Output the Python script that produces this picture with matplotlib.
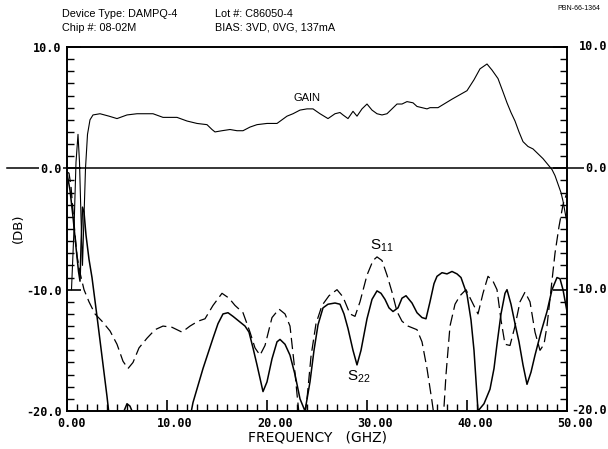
import matplotlib
matplotlib.use("Agg")
import matplotlib.pyplot as plt
import matplotlib.transforms as mtransforms
import numpy as np

# ---- data (frequency in GHz, level in dB) ----
gain_f = [0.45, 0.7, 0.9, 1.1, 1.25, 1.4, 1.55, 1.7, 1.85, 2.05, 2.3, 2.6, 3.3, 4.2, 5.0,
          6.0, 7.0, 8.6, 9.6, 11.0, 12.0, 13.0, 14.0, 14.5, 14.8, 15.5, 16.3, 17.0, 17.6,
          18.3, 19.0, 20.0, 21.0, 21.5, 22.0, 22.6, 23.3, 24.0, 24.6, 25.3, 26.1, 26.8,
          27.3, 27.6, 28.1, 28.6, 29.0, 29.5, 30.0, 30.5, 31.0, 31.5, 32.0, 32.5, 33.0,
          33.5, 34.0, 34.6, 35.0, 35.5, 36.0, 36.3, 37.1, 38.5, 40.0, 40.7, 41.3, 42.0,
          42.5, 43.1, 43.6, 44.0, 44.4, 44.8, 45.2, 45.6, 46.1, 46.6, 47.1, 47.6, 48.1,
          48.5, 48.8, 49.1, 49.4, 49.6, 50.0]
gain_db = [-10, -5, 0.5, 2.8, 0.5, -4, -8, -4, 0.0, 2.8, 4.0, 4.4, 4.5, 4.3, 4.1,
           4.4, 4.5, 4.5, 4.2, 4.2, 3.9, 3.7, 3.6, 3.2, 3.0, 3.1, 3.2, 3.1, 3.1,
           3.4, 3.6, 3.7, 3.7, 4.0, 4.3, 4.5, 4.8, 4.9, 4.9, 4.5, 4.1, 4.5,
           4.6, 4.4, 4.1, 4.7, 4.3, 4.9, 5.3, 4.8, 4.5, 4.4, 4.5, 4.9, 5.3,
           5.3, 5.5, 5.4, 5.1, 5.0, 4.9, 5.0, 5.0, 5.7, 6.4, 7.3, 8.2, 8.6,
           8.1, 7.4, 6.3, 5.4, 4.6, 3.9, 3.0, 2.2, 1.8, 1.6, 1.2, 0.8, 0.3,
           -0.1, -0.6, -1.3, -2.0, -2.7, -4.5]

s11_f = [0, 0.2, 0.4, 0.7, 1.0, 1.3, 1.7, 2.2, 2.8, 3.5, 4.3, 5.0, 5.6, 6.1, 6.6, 7.2,
         8.0, 8.8, 9.6, 10.5, 11.5, 12.3, 13.1, 13.8, 14.6, 15.5, 16.2, 16.8, 17.6,
         18.3, 18.8, 19.3, 19.8, 20.5, 21.2, 21.8, 22.3, 22.7, 23.0, 23.3, 23.7, 24.0,
         24.4, 24.9, 25.5, 26.2, 27.0, 27.6, 28.3, 28.8, 29.3, 30.0, 30.6, 31.0, 31.5,
         32.0, 32.5, 33.0, 33.5, 34.1, 35.0, 35.5, 36.0, 36.5, 36.8, 37.6, 37.9, 38.3,
         38.8, 39.3, 39.9, 40.5, 41.1, 41.6, 42.1, 42.6, 43.0, 43.4, 43.8, 44.3, 44.8,
         45.3, 45.8, 46.3, 46.8, 47.3, 47.7, 48.0, 48.4, 48.8, 49.2, 49.6, 50.0]
s11_db = [-0.3, -0.4, -1.5, -4.5, -7.2, -8.6, -10.0, -11.0, -12.0, -12.6, -13.4, -14.5,
          -15.9, -16.5, -16.0, -14.8, -14.0, -13.3, -13.0, -13.1, -13.5, -13.0, -12.6,
          -12.4, -11.3, -10.3, -10.7, -11.3, -11.9, -13.5, -14.8, -15.4, -14.6, -12.3,
          -11.6, -12.0, -13.0, -16.0, -18.6, -21, -21, -19.0, -15.5, -12.8, -11.3, -10.5,
          -10.0, -10.6, -12.0, -12.2, -11.0, -8.8, -7.6, -7.3, -7.6, -8.8, -10.2, -11.8,
          -12.6, -13.0, -13.3, -14.3, -16.5, -19.2, -21, -21, -17.0, -13.0, -11.2, -10.5,
          -10.0, -11.0, -12.0, -10.3, -8.9, -9.3, -10.0, -12.5, -14.5, -14.6, -13.0,
          -11.0, -10.2, -11.0, -13.5, -15.0, -14.5, -13.0, -10.0, -7.0, -4.8, -3.0, -2.0]

s22_f = [0, 0.3, 0.6, 0.9, 1.15, 1.3, 1.42, 1.55, 1.7, 1.9, 2.2, 2.5, 3.0, 3.5, 4.0, 4.3,
         5.5, 5.7, 6.0, 6.3, 6.6, 6.8, 12.2, 12.6, 13.6, 14.6, 15.1, 15.6, 16.1, 16.6,
         17.2, 17.8, 18.2, 18.6, 19.0, 19.6, 20.0, 20.5, 21.0, 21.3, 21.8, 22.3, 22.8,
         23.3, 23.8, 24.3, 24.7, 25.1, 25.6, 26.1, 26.8, 27.3, 27.7, 28.1, 28.6, 29.0,
         29.4, 30.0, 30.5, 31.0, 31.4, 31.8, 32.2, 32.6, 33.1, 33.5, 33.9, 34.5, 35.0,
         35.5, 35.9, 36.3, 36.7, 37.0, 37.5, 38.0, 38.5, 39.0, 39.4, 40.0, 40.4, 40.7,
         41.1, 41.7, 42.3, 42.7, 43.0, 43.4, 43.8, 44.0, 44.4, 44.8, 45.2, 45.6, 46.0,
         46.4, 46.8, 47.4, 48.0, 48.5, 49.0, 49.3, 49.6, 50.0]
s22_db = [-0.4, -1.8, -4.0, -6.5, -8.5, -9.3, -6.0, -3.2, -3.6, -5.5, -7.5, -9.0, -12.2,
          -15.5, -18.8, -21, -21, -20.0, -19.4, -19.6, -20.2, -21, -21, -19.3, -16.5,
          -14.0, -12.8, -12.0, -11.9, -12.2, -12.6, -13.0, -13.5, -14.8, -16.2, -18.4,
          -17.6, -15.7, -14.3, -14.1, -14.5, -15.4, -17.0, -19.0, -20.0, -17.6, -15.0,
          -12.9, -11.5, -11.2, -11.1, -11.2, -12.0, -13.2, -15.0, -16.2, -15.0, -12.4,
          -10.8, -10.1, -10.3, -10.8, -11.5, -11.8, -11.5, -10.7, -10.5, -11.1, -11.9,
          -12.3, -12.4, -11.0, -9.5, -8.9, -8.6, -8.7, -8.5, -8.7, -9.0, -10.4, -12.5,
          -15.0, -20.0, -19.4, -18.2, -16.5, -14.5, -12.0, -10.3, -10.0, -11.2, -12.8,
          -14.3, -16.2, -17.8, -16.8, -15.4, -13.5, -11.8, -10.0, -9.0, -9.1, -10.0, -11.8]

x_major = [0, 10, 20, 30, 40, 50]
x_labels = ["0.00", "10.00", "20.00", "30.00", "40.00", "50.00"]
y_major = [10, 0, -10, -20]
y_labels = ["10.0", "0.0", "-10.0", "-20.0"]

mono = dict(family="DejaVu Sans Mono", weight="bold", size=8.5)

fig = plt.figure(figsize=(6.08, 4.49), dpi=100)
ax = fig.add_axes([67 / 608, 1 - 411 / 449, 500 / 608, 364 / 449])

ax.plot(gain_f, gain_db, color="black", lw=0.8)
ax.plot(s11_f, s11_db, color="black", lw=0.9, dashes=(9, 4))
ax.plot(s22_f, s22_db, color="black", lw=1.1)

ax.set_xlim(0, 50)
ax.set_ylim(-20, 10)

for sp in ax.spines.values():
    sp.set_linewidth(1.4)

# ticks: inward, every 1 GHz / 1 dB
ax.set_xticks(x_major, x_labels, **mono)
ax.set_xticks(np.arange(0, 51, 1), minor=True)
ax.set_yticks(y_major, y_labels, **mono)
ax.set_yticks(np.arange(-20, 11, 1), minor=True)
ax.tick_params(axis="both", which="both", direction="in", top=False, right=True,
               color="black")
ax.tick_params(axis="x", which="major", length=8, width=1.2, pad=4)
ax.tick_params(axis="x", which="minor", length=5, width=1.0)
ax.tick_params(axis="y", which="major", length=10, width=1.2, pad=4, labelright=False)
ax.tick_params(axis="y", which="minor", length=5, width=1.0)

# x labels sit starting just left of their tick
shift = mtransforms.ScaledTranslation(-10 / 100, 0, fig.dpi_scale_trans)
for lab in ax.get_xticklabels():
    lab.set_horizontalalignment("left")
    lab.set_transform(lab.get_transform() + shift)

for lab in ax.get_yticklabels():
    if lab.get_text() == "0.0":
        lab.set_bbox(dict(facecolor="white", edgecolor="none", pad=1))

# right-hand labels
rtrans = mtransforms.blended_transform_factory(fig.transFigure, ax.transData)
for v, t in zip(y_major, y_labels):
    ax.text(607 / 608, v, t, transform=rtrans, ha="right", va="center",
            clip_on=False, zorder=5,
            bbox=dict(facecolor="white", edgecolor="none", pad=1) if v == 0 else None,
            **mono)

# 0 dB reference line running past the frame on both sides
ztrans = mtransforms.blended_transform_factory(ax.transAxes, ax.transData)
ax.plot([-0.12, 1.04], [0, 0], color="black", lw=1.1, transform=ztrans,
        clip_on=False, zorder=1)

# curve annotations
lbl = dict(family="Liberation Sans", color="black")
ax.text(24.0, 5.8, "GAIN", ha="center", va="center", size=8, **lbl)
ax.text(30.3, -6.35, r"$\mathregular{S_{11}}$", ha="left", va="center", size=11, **lbl)
ax.text(28.0, -17.2, r"$\mathregular{S_{22}}$", ha="left", va="center", size=11, **lbl)

ax.set_xlabel("FREQUENCY   (GHZ)", family="DejaVu Sans", size=10, labelpad=1)
fig.text(18 / 608, 1 - 228 / 449, "(DB)", rotation=90, ha="center", va="center",
         family="DejaVu Sans", size=9.5)

# header block
hdr = dict(family="Liberation Sans", size=7.8, va="center", ha="left")
fig.text(62 / 608, 1 - 14 / 449, "Device Type: DAMPQ-4", **hdr)
fig.text(62 / 608, 1 - 28 / 449, "Chip #: 08-02M", **hdr)
fig.text(215 / 608, 1 - 14 / 449, "Lot #: C86050-4", **hdr)
fig.text(215 / 608, 1 - 28 / 449, "BIAS: 3VD, 0VG, 137mA", **hdr)
fig.text(600 / 608, 1 - 9 / 449, "PBN-66-1364", family="Liberation Sans", size=5,
         ha="right", va="center")

fig.savefig("out.png", dpi=100)
